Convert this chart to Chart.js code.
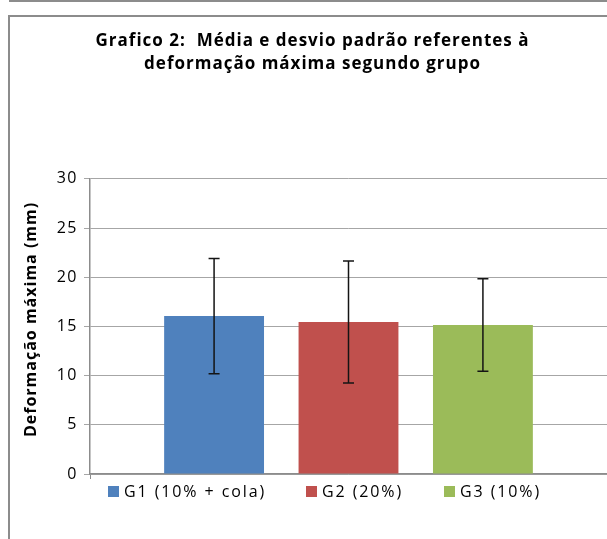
<!DOCTYPE html>
<html><head><meta charset="utf-8">
<script src="https://cdn.jsdelivr.net/npm/chart.js@4"></script>
<style>
html,body{margin:0;padding:0;background:#fff;}
#wrap{position:relative;width:607px;height:539px;overflow:hidden;background:#fff;}
#c{position:absolute;left:0;top:0;}
.topline{position:absolute;left:9px;top:0;width:600px;height:2px;background:#8c8c8c;}
.frame{position:absolute;left:8px;top:15px;width:640px;height:600px;border-left:2px solid #8c8c8c;border-top:2px solid #8c8c8c;pointer-events:none;}
#legend{position:absolute;left:0;top:480px;width:607px;height:24px;font-family:'Open Sans',sans-serif;font-size:16px;letter-spacing:1.9px;color:#000;white-space:nowrap;}
#legend .it{position:absolute;top:0;display:flex;align-items:center;height:22px;}
#legend .sw{width:11px;height:11px;margin-right:5px;}
</style>
</head><body>
<div id="wrap">
<div class="topline"></div>
<div class="frame"></div>
<canvas id="c" width="607" height="539"></canvas>
<div id="legend"></div>
</div>
<script>
const titleLines = ['Grafico 2:  Média e desvio padrão referentes à', 'deformação máxima segundo grupo'];
const yTitle = 'Deformação máxima (mm)';
const categories = ['G1 (10% + cola)', 'G2 (20%)', 'G3 (10%)'];
const means = [16.05, 15.45, 15.15];
const sds = [5.85, 6.2, 4.7];
const colors = ['#4F81BD', '#C0504D', '#9BBB59'];
const yMin = 0, yMax = 30, yStep = 5;

const errorBarPlugin = {
  id: 'errorBars',
  afterDatasetsDraw(chart) {
    const ctx = chart.ctx, y = chart.scales.y;
    chart.data.datasets.forEach((ds, i) => {
      const meta = chart.getDatasetMeta(i);
      meta.data.forEach((bar, j) => {
        const m = ds.data[j], s = sds[i];
        const x = bar.x;
        const yt = y.getPixelForValue(m + s), yb = y.getPixelForValue(m - s);
        ctx.save();
        ctx.strokeStyle = '#141414';
        ctx.lineWidth = 1.5;
        ctx.beginPath();
        ctx.moveTo(x, yt); ctx.lineTo(x, yb);
        ctx.moveTo(x - 5.5, yt); ctx.lineTo(x + 5.5, yt);
        ctx.moveTo(x - 5.5, yb); ctx.lineTo(x + 5.5, yb);
        ctx.stroke();
        ctx.restore();
      });
    });
  }
};

// letter spacing to imitate the reference's widely spaced text
const spacingPlugin = {
  id: 'spacing',
  afterLayout(chart) {
    const wrap = (obj, name, sp, dy) => {
      if (!obj || obj['__w' + name]) return;
      const orig = obj[name];
      obj[name] = function (...a) {
        const c = chart.ctx;
        c.save();
        c.letterSpacing = sp;
        if (dy) c.translate(0, dy);
        try { return orig.apply(this, a); } finally { c.restore(); }
      };
      obj['__w' + name] = true;
    };
    wrap(chart.titleBlock, 'draw', '1px', 0);
    wrap(chart.scales.y, 'drawLabels', '1.5px', 0);
    wrap(chart.scales.y, 'drawTitle', '1px', -7);
  }
};

const chart = new Chart(document.getElementById('c'), {
  type: 'bar',
  data: {
    labels: [''],
    datasets: categories.map((c, i) => ({
      label: c,
      data: [means[i]],
      backgroundColor: colors[i],
      borderWidth: 0,
      categoryPercentage: 0.78,
      barPercentage: 0.743
    }))
  },
  options: {
    responsive: false,
    animation: false,
    layout: { padding: { left: 18, right: 0, top: 0, bottom: 59 } },
    plugins: {
      legend: { display: false },
      tooltip: { enabled: false },
      title: {
        display: true,
        text: titleLines,
        color: '#000',
        font: { family: 'Open Sans', size: 17, weight: 'bold', lineHeight: 1.35 },
        padding: { top: 30, bottom: 103 }
      }
    },
    scales: {
      x: {
        grid: { display: true, drawOnChartArea: false, drawTicks: true, tickLength: 5, color: '#8c8c8c', offset: true },
        border: { display: true, color: '#8c8c8c', width: 1.5 },
        ticks: { display: false },
        afterFit(s) { s.height = 6; }
      },
      y: {
        min: yMin, max: yMax,
        ticks: { stepSize: yStep, color: '#000', padding: 6, font: { family: 'Open Sans', size: 16 } },
        grid: { color: '#a6a6a6', lineWidth: 1, tickLength: 6 },
        border: { display: true, color: '#8c8c8c', width: 1.5 },
        title: { display: true, text: yTitle, color: '#000', padding: { top: 4, bottom: 0 }, font: { family: 'Open Sans', size: 16, weight: 'bold' } },
        afterFit(s) { s.width = 72; }
      }
    }
  },
  plugins: [errorBarPlugin, spacingPlugin]
});

const legendX = [108, 306, 444];
const lg = document.getElementById('legend');
categories.forEach((c, i) => {
  const it = document.createElement('div'); it.className = 'it';
  it.style.left = legendX[i] + 'px';
  const sw = document.createElement('span'); sw.className = 'sw'; sw.style.background = colors[i];
  const tx = document.createElement('span'); tx.textContent = c;
  it.appendChild(sw); it.appendChild(tx); lg.appendChild(it);
});
</script>
</body></html>
